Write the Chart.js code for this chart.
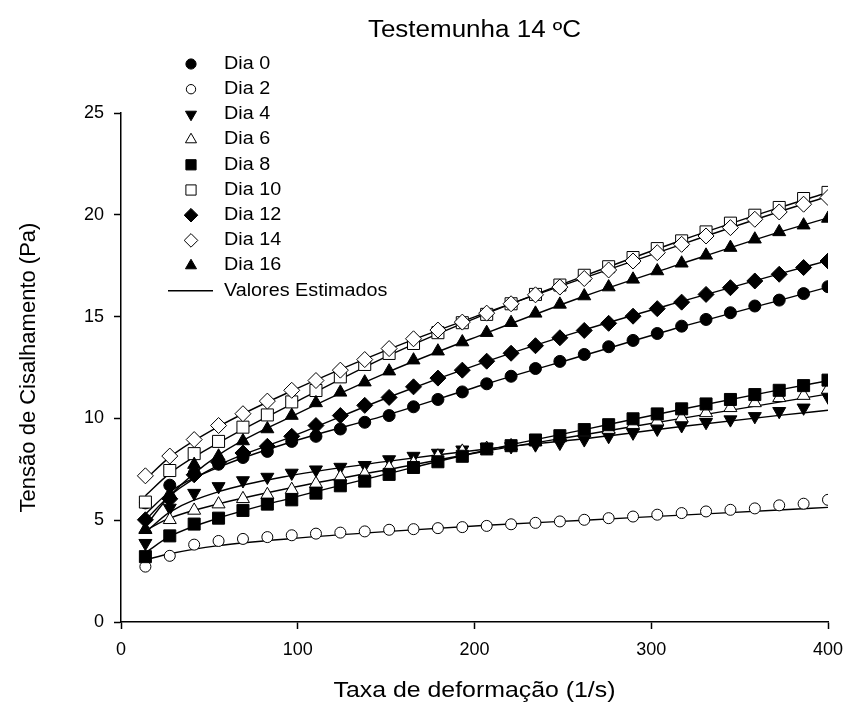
<!DOCTYPE html>
<html>
<head>
<meta charset="utf-8">
<script src="https://cdn.jsdelivr.net/npm/chart.js@4.4.0/dist/chart.umd.min.js"></script>
<style>
  html, body { margin: 0; padding: 0; background: #fff; }
  #wrap { width: 847px; height: 706px; position: relative; }
</style>
</head>
<body>
<div id="wrap"><canvas id="c" width="847" height="706"></canvas></div>
<script>
// Shear rate (1/s)
const shearRate = [13.8, 27.6, 41.4, 55.2, 69.0, 82.8, 96.6, 110.3, 124.1, 137.9,
  151.7, 165.5, 179.3, 193.1, 206.9, 220.7, 234.5, 248.3, 262.1, 275.9,
  289.7, 303.4, 317.2, 331.0, 344.8, 358.6, 372.4, 386.2, 400.0];

// Measured shear stress (Pa) per storage day
const dia0 = [5.85, 6.72, 7.3, 7.75, 8.08, 8.38, 8.87, 9.12, 9.48, 9.81, 10.14, 10.57, 10.93, 11.3, 11.7,
  12.07, 12.45, 12.8, 13.14, 13.52, 13.83, 14.17, 14.53, 14.86, 15.19, 15.52, 15.81, 16.13, 16.47];
const dia2 = [2.72, 3.25, 3.8, 3.98, 4.08, 4.17, 4.26, 4.34, 4.39, 4.45, 4.53, 4.56, 4.61, 4.66, 4.72,
  4.8, 4.87, 4.94, 5.02, 5.1, 5.18, 5.27, 5.35, 5.43, 5.51, 5.58, 5.73, 5.81, 6.0];
const dia4 = [3.87, 5.6, 6.33, 6.66, 6.95, 7.12, 7.32, 7.48, 7.61, 7.7, 7.98, 8.15, 8.3, 8.46, 8.57,
  8.62, 8.71, 8.79, 8.96, 9.12, 9.29, 9.48, 9.65, 9.81, 9.94, 10.1, 10.35, 10.52, 11.06];
const dia6 = [4.55, 5.02, 5.48, 5.79, 6.05, 6.25, 6.5, 6.79, 7.12, 7.28, 7.58, 7.81, 8.14, 8.38, 8.52,
  8.65, 8.85, 9.04, 9.29, 9.45, 9.69, 9.86, 10.02, 10.27, 10.52, 10.76, 11.01, 11.12, 11.42];
const dia8 = [3.21, 4.23, 4.81, 5.1, 5.48, 5.79, 6.0, 6.33, 6.69, 6.92, 7.25, 7.59, 7.87, 8.14, 8.5,
  8.66, 8.94, 9.15, 9.45, 9.69, 9.98, 10.22, 10.47, 10.71, 10.93, 11.17, 11.38, 11.61, 11.88];
const dia10 = [5.89, 7.44, 8.27, 8.87, 9.57, 10.17, 10.81, 11.37, 12.04, 12.65, 13.19, 13.68, 14.21, 14.7, 15.11,
  15.63, 16.09, 16.55, 17.03, 17.45, 17.9, 18.34, 18.72, 19.16, 19.59, 19.98, 20.36, 20.8, 21.1];
const dia12 = [5.02, 6.05, 7.23, 7.85, 8.3, 8.63, 9.12, 9.65, 10.14, 10.64, 11.03, 11.55, 11.98, 12.37, 12.81,
  13.2, 13.57, 13.96, 14.32, 14.67, 15.02, 15.39, 15.71, 16.09, 16.42, 16.75, 17.08, 17.41, 17.73];
const dia14 = [7.18, 8.15, 8.96, 9.65, 10.23, 10.85, 11.38, 11.86, 12.37, 12.89, 13.43, 13.91, 14.34, 14.73, 15.17,
  15.63, 16.07, 16.45, 16.87, 17.29, 17.73, 18.14, 18.55, 18.96, 19.37, 19.78, 20.14, 20.52, 20.85];
const dia16 = [4.53, 6.3, 7.73, 8.14, 8.89, 9.48, 10.14, 10.76, 11.28, 11.78, 12.32, 12.86, 13.3, 13.75, 14.21,
  14.7, 15.16, 15.6, 16.01, 16.45, 16.83, 17.24, 17.62, 18.01, 18.39, 18.8, 19.16, 19.49, 19.82];

// Model curves (estimated values) sampled along the shear-rate range
const fitRate = [13.8, 27.6, 55.2, 96.6, 151.7, 206.9, 262.1, 317.2, 372.4, 400.0];
const fit0  = [5.3, 6.4, 7.6, 8.85, 10.2, 11.7, 13.1, 14.5, 15.8, 16.45];
const fit2  = [3.05, 3.35, 3.75, 4.1, 4.45, 4.75, 5.0, 5.25, 5.5, 5.63];
const fit4  = [4.4, 5.4, 6.4, 7.2, 7.9, 8.5, 9.0, 9.6, 10.15, 10.4];
const fit6  = [4.5, 5.1, 5.8, 6.6, 7.5, 8.4, 9.2, 10.0, 10.8, 11.2];
const fit8  = [3.4, 4.2, 5.1, 6.1, 7.3, 8.45, 9.45, 10.45, 11.4, 11.85];
const fit10 = [6.2, 7.3, 8.8, 10.7, 13.1, 15.15, 17.0, 18.75, 20.35, 21.1];
const fit12 = [5.0, 6.2, 7.7, 9.1, 11.05, 12.8, 14.35, 15.75, 17.1, 17.75];
const fit14 = [7.0, 8.1, 9.6, 11.35, 13.4, 15.2, 16.9, 18.55, 20.15, 20.9];
const fit16 = [4.7, 6.2, 8.2, 10.1, 12.3, 14.2, 16.0, 17.6, 19.15, 19.85];

const seriesLabels = ['Dia 0', 'Dia 2', 'Dia 4', 'Dia 6', 'Dia 8', 'Dia 10', 'Dia 12', 'Dia 14', 'Dia 16'];
const fitLabel = 'Valores Estimados';
const chartTitle = 'Testemunha 14 ºC';
const xTitle = 'Taxa de deformação (1/s)';
const yTitle = 'Tensão de Cisalhamento (Pa)';
const xTicks = [0, 100, 200, 300, 400];
const yTicks = [0, 5, 10, 15, 20, 25];

const measured = [dia0, dia2, dia4, dia6, dia8, dia10, dia12, dia14, dia16];
const fitted = [fit0, fit2, fit4, fit6, fit8, fit10, fit12, fit14, fit16];

const FONT = '"Liberation Sans", Arial, Helvetica, sans-serif';
const TEXT_WIDEN = 1.13; // glyphs in this figure are set slightly wide

// Marker look for each day: shape, fill, size, rotation
const markers = [
  { style: 'circle',   fill: '#000', r: 6,   rot: 0 },
  { style: 'circle',   fill: '#fff', r: 5.5, rot: 0 },
  { style: 'triangle', fill: '#000', r: 7.5, rot: 180 },
  { style: 'triangle', fill: '#fff', r: 7.5, rot: 0 },
  { style: 'rect',     fill: '#000', r: 8.5, rot: 0 },
  { style: 'rect',     fill: '#fff', r: 8.5, rot: 0 },
  { style: 'rectRot',  fill: '#000', r: 8,   rot: 0 },
  { style: 'rectRot',  fill: '#fff', r: 8,   rot: 0 },
  { style: 'triangle', fill: '#000', r: 7.5, rot: 0 }
];

const toPoints = (xs, ys) => ys.map((y, i) => ({ x: xs[i], y }));

const datasets = [];
measured.forEach((vals, i) => {
  const m = markers[i];
  datasets.push({
    label: seriesLabels[i],
    data: toPoints(shearRate, vals),
    showLine: false,
    pointStyle: m.style,
    pointRadius: m.r,
    pointRotation: m.rot,
    pointBackgroundColor: m.fill,
    pointBorderColor: '#000',
    pointBorderWidth: 1,
    order: 20 - i
  });
});
fitted.forEach((vals, i) => {
  datasets.push({
    label: fitLabel,
    data: toPoints(fitRate, vals),
    showLine: true,
    borderColor: '#000',
    borderWidth: 1.4,
    pointRadius: 0,
    cubicInterpolationMode: 'monotone',
    fill: false,
    order: 100
  });
});

// Draws a marker the same way the chart does
function marker(ctx, m, x, y, scale) {
  ctx.save();
  ctx.fillStyle = m.fill;
  ctx.strokeStyle = '#000';
  ctx.lineWidth = 1;
  if (Chart.helpers && Chart.helpers.drawPoint) {
    Chart.helpers.drawPoint(ctx, { pointStyle: m.style, radius: m.r * scale, rotation: m.rot, borderWidth: 1 }, x, y);
  }
  ctx.restore();
}

// Text drawn with a slight horizontal widening
function wideText(ctx, text, x, y, align) {
  ctx.save();
  ctx.translate(x, y);
  ctx.scale(TEXT_WIDEN, 1);
  ctx.textAlign = align;
  ctx.fillText(text, 0, 0);
  ctx.restore();
}

const decorations = {
  id: 'decorations',
  afterDraw(chart) {
    const ctx = chart.ctx;
    const area = chart.chartArea;
    const cx = (area.left + area.right) / 2;
    ctx.save();
    ctx.fillStyle = '#000';
    ctx.textBaseline = 'middle';

    // chart title
    ctx.font = '23px ' + FONT;
    wideText(ctx, chartTitle, cx, 31, 'center');

    // axis titles
    ctx.font = '22px ' + FONT;
    wideText(ctx, xTitle, cx, 691, 'center');
    ctx.save();
    ctx.translate(29, (area.top + area.bottom) / 2);
    ctx.rotate(-Math.PI / 2);
    ctx.textAlign = 'center';
    ctx.fillText(yTitle, 0, 0);
    ctx.restore();

    // legend
    ctx.font = '17.5px ' + FONT;
    const rowY0 = 64, rowStep = 25.2, symX = 191, textX = 224;
    seriesLabels.forEach((lab, i) => {
      const y = rowY0 + i * rowStep;
      marker(ctx, markers[i], symX, y, 0.85);
      ctx.fillStyle = '#000';
      wideText(ctx, lab, textX, y, 'left');
    });
    const ly = rowY0 + seriesLabels.length * rowStep;
    ctx.strokeStyle = '#000';
    ctx.lineWidth = 1.4;
    ctx.beginPath();
    ctx.moveTo(168, ly);
    ctx.lineTo(213, ly);
    ctx.stroke();
    wideText(ctx, fitLabel, textX, ly, 'left');
    ctx.restore();
  }
};

new Chart(document.getElementById('c'), {
  type: 'scatter',
  data: { datasets },
  options: {
    responsive: false,
    animation: false,
    events: [],
    layout: { padding: { top: 113, right: 19, bottom: 0, left: 0 } },
    plugins: {
      legend: { display: false },
      title: { display: false },
      tooltip: { enabled: false }
    },
    scales: {
      x: {
        type: 'linear',
        min: xTicks[0],
        max: xTicks[xTicks.length - 1],
        afterBuildTicks: (s) => { s.ticks = xTicks.map(v => ({ value: v })); },
        afterFit: (s) => { s.height = 84; s.paddingLeft = 0; s.paddingRight = 0; },
        grid: { drawOnChartArea: false, drawTicks: true, tickLength: 7, tickWidth: 1.5, tickColor: '#000' },
        border: { display: true, color: '#000', width: 1.5 },
        ticks: { color: '#000', font: { family: FONT, size: 18 }, padding: 10, maxRotation: 0 }
      },
      y: {
        type: 'linear',
        min: yTicks[0],
        max: yTicks[yTicks.length - 1],
        afterBuildTicks: (s) => { s.ticks = yTicks.map(v => ({ value: v })); },
        afterFit: (s) => { s.width = 121; s.paddingTop = 0; s.paddingBottom = 0; },
        grid: { drawOnChartArea: false, drawTicks: true, tickLength: 7, tickWidth: 1.5, tickColor: '#000' },
        border: { display: true, color: '#000', width: 1.5 },
        ticks: { color: '#000', font: { family: FONT, size: 18 }, padding: 10 }
      }
    }
  },
  plugins: [decorations]
});
</script>
</body>
</html>
